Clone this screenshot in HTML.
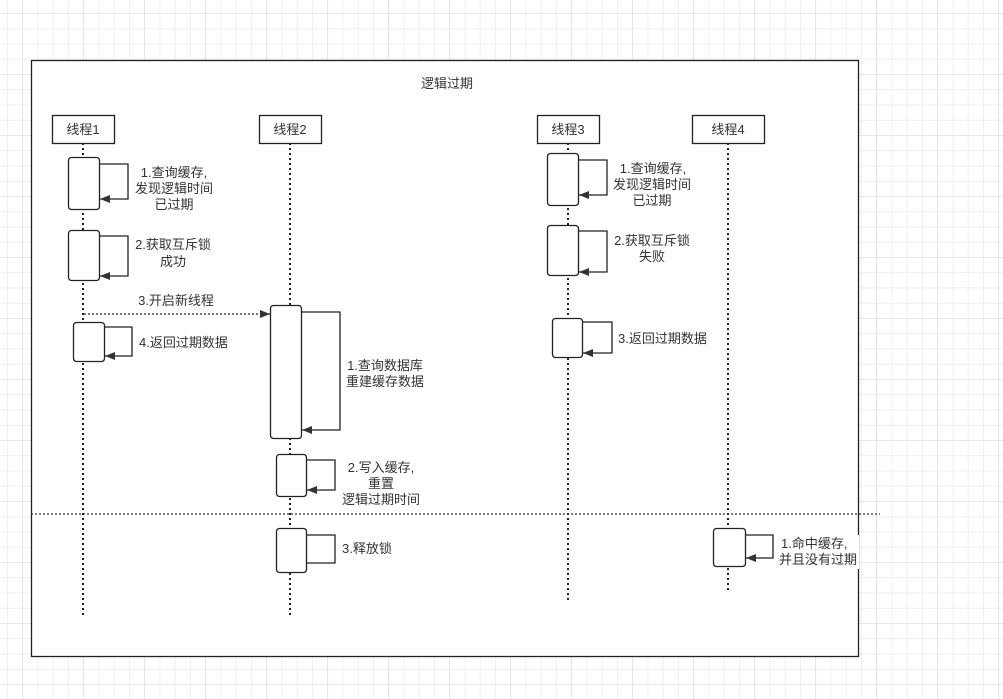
<!DOCTYPE html>
<html><head><meta charset="utf-8"><style>
html,body{margin:0;padding:0;background:#fff;}
svg{display:block;}
text{font-family:"Liberation Sans","Noto Sans CJK SC",sans-serif;font-size:13px;fill:#333;}
</style></head><body>
<svg width="1003" height="699" viewBox="0 0 1003 699" xmlns="http://www.w3.org/2000/svg">
<defs>
<pattern id="g" x="7" y="13" width="15.25" height="15.25" patternUnits="userSpaceOnUse">
<path d="M0 0V15.25M0 0H15.25" stroke="#ececec" stroke-width="1.6" fill="none"/>
</pattern>
<pattern id="G" x="22" y="13" width="61" height="61" patternUnits="userSpaceOnUse">
<path d="M0 0V61M0 0H61" stroke="#e4e4e4" stroke-width="1.6" fill="none"/>
</pattern>
<marker id="a" markerWidth="10" markerHeight="8" refX="10" refY="4" orient="auto" markerUnits="userSpaceOnUse">
<path d="M0 0L10 4L0 8Z" fill="#333"/>
</marker>
</defs>
<rect width="1003" height="699" fill="url(#g)"/>
<rect width="1003" height="699" fill="url(#G)"/>
<rect x="31.5" y="60.5" width="827" height="596" fill="#fff" stroke="#222" stroke-width="1.3"/>
<text x="447" y="88" text-anchor="middle">逻辑过期</text>

<g stroke="#222" stroke-width="2" stroke-dasharray="2 3" fill="none">
<line x1="83" y1="143" x2="83" y2="615"/>
<line x1="290" y1="143" x2="290" y2="615"/>
<line x1="568" y1="143" x2="568" y2="600"/>
<line x1="728" y1="143" x2="728" y2="590"/>
</g>
<line x1="31" y1="514" x2="880" y2="514" stroke="#333" stroke-width="1.2" stroke-dasharray="2 2"/>

<g fill="#fff" stroke="#222" stroke-width="1.3">
<rect x="52.5" y="115.5" width="62" height="28"/>
<rect x="259.5" y="115.5" width="62" height="28"/>
<rect x="537.5" y="115.5" width="62" height="28"/>
<rect x="692.5" y="115.5" width="72" height="28"/>
</g>
<text x="83" y="134" text-anchor="middle">线程1</text>
<text x="290" y="134" text-anchor="middle">线程2</text>
<text x="568" y="134" text-anchor="middle">线程3</text>
<text x="728" y="134" text-anchor="middle">线程4</text>

<g fill="#fff" stroke="#222" stroke-width="1.3">
<rect x="68.5" y="157.5" width="31" height="52" rx="3"/>
<rect x="68.5" y="230.5" width="31" height="50" rx="3"/>
<rect x="73.5" y="322.5" width="31" height="39" rx="3"/>
<rect x="270.5" y="305.5" width="31" height="133" rx="3"/>
<rect x="276.5" y="454.5" width="30" height="42" rx="3"/>
<rect x="276.5" y="528.5" width="30" height="44" rx="3"/>
<rect x="547.5" y="153.5" width="31" height="52" rx="3"/>
<rect x="547.5" y="225.5" width="31" height="50" rx="3"/>
<rect x="552.5" y="318.5" width="30" height="39" rx="3"/>
<rect x="713.5" y="528.5" width="32" height="38" rx="3"/>
</g>

<g fill="none" stroke="#222" stroke-width="1.3">
<path d="M100 164H128V199H100" marker-end="url(#a)"/>
<path d="M100 236H128V276H100" marker-end="url(#a)"/>
<path d="M105 327H132V356H105" marker-end="url(#a)"/>
<path d="M302 312H340V430H302" marker-end="url(#a)"/>
<path d="M307 460H335V490H307" marker-end="url(#a)"/>
<path d="M307 535H335V563H307"/>
<path d="M579 160H607V195H579" marker-end="url(#a)"/>
<path d="M579 231H607V272H579" marker-end="url(#a)"/>
<path d="M583 322H612V353H583" marker-end="url(#a)"/>
<path d="M746 535H773V558H746" marker-end="url(#a)"/>
<path d="M84 314H270" stroke-dasharray="2 2" marker-end="url(#a)"/>
</g>

<text x="176" y="305" text-anchor="middle">3.开启新线程</text>
<g text-anchor="middle">
<text x="174" y="177">1.查询缓存,</text>
<text x="174" y="193">发现逻辑时间</text>
<text x="174" y="209">已过期</text>
<text x="173" y="249">2.获取互斥锁</text>
<text x="173" y="266">成功</text>
<text x="385" y="370">1.查询数据库</text>
<text x="385" y="386">重建缓存数据</text>
<text x="381" y="472">2.写入缓存,</text>
<text x="381" y="488">重置</text>
<text x="381" y="504">逻辑过期时间</text>
<text x="653" y="173">1.查询缓存,</text>
<text x="652" y="189">发现逻辑时间</text>
<text x="652" y="205">已过期</text>
<text x="652" y="245">2.获取互斥锁</text>
<text x="652" y="261">失败</text>
</g>
<text x="139" y="347">4.返回过期数据</text>
<text x="618" y="343">3.返回过期数据</text>
<text x="342" y="553">3.释放锁</text>
<rect x="779" y="535" width="80" height="34" fill="#fff"/>
<text x="781" y="548">1.命中缓存,</text>
<text x="779" y="564">并且没有过期</text>
</svg>
</body></html>
